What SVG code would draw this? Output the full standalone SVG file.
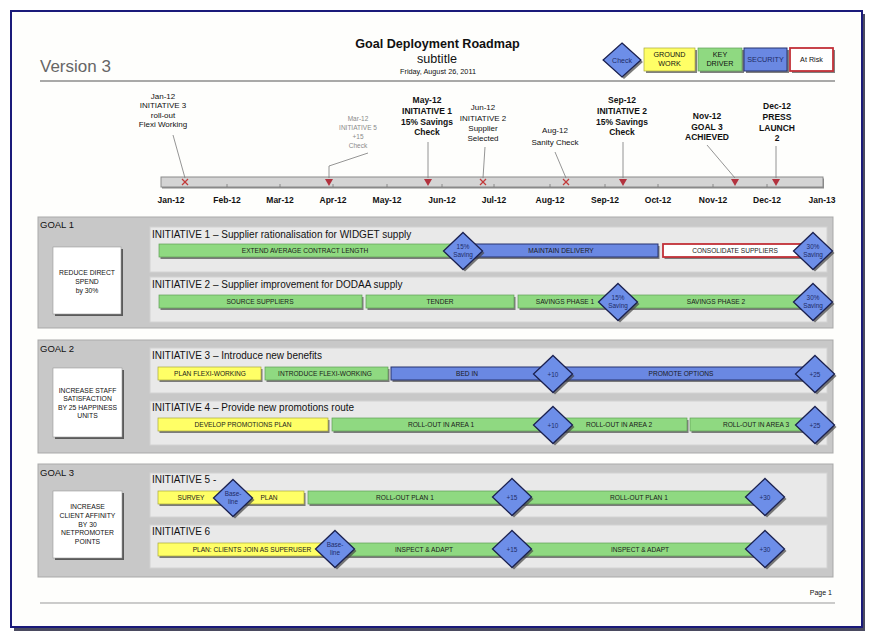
<svg xmlns="http://www.w3.org/2000/svg" width="877" height="639" viewBox="0 0 877 639">
<style>
text{font-family:"Liberation Sans",Arial,sans-serif;fill:#111}
.ctr{text-anchor:middle}
.mon{font-size:8.5px;font-weight:bold;text-anchor:middle}
.ev{font-size:8px;text-anchor:middle}
.evb{font-size:8.5px;font-weight:bold;text-anchor:middle}
.evg{font-size:6.5px;text-anchor:middle;fill:#8a8a8a}
.goalp{fill:#c8c8c8;stroke:#a9a9a9;stroke-width:1}
.initp{fill:#e9e9e9;stroke:#d2d2d2;stroke-width:1}
.gl{font-size:9.5px}
.it{font-size:10px}
.gbox{fill:#fff;stroke:#9a9a9a;stroke-width:.6}
.gsh{fill:#5a5a5a}
.gt{font-size:6.8px;text-anchor:middle}
.sh{fill:#555;opacity:.75}
.g{fill:#8fd981;stroke:#5f9f55;stroke-width:.7}
.b{fill:#6a88e2;stroke:#27326e;stroke-width:1}
.y{fill:#ffff66;stroke:#a8a83a;stroke-width:.7}
.r{fill:#fff;stroke:#c23038;stroke-width:1.8}
.bt{font-size:6.6px;text-anchor:middle;fill:#1a1a1a}
.dm{fill:#6d8ee8;stroke:#1b2150;stroke-width:1.3}
.dsh{fill:#444;opacity:.7}
.dt{font-size:6.4px;text-anchor:middle;fill:#1e2c66}
.cn{stroke:#7a7a7a;stroke-width:.8;fill:none}
.tri{fill:#b2323e}
.xm{stroke:#c23a3a;stroke-width:1.3}
.lg{font-size:7.2px;text-anchor:middle}
</style>
<defs>
<polygon id="dia" points="0,-18.5 19.5,0 0,18.5 -19.5,0"/>
<g id="tr"><polygon class="tri" points="-4,-3 4,-3 0,4"/></g>
<g id="xx"><line class="xm" x1="-3" y1="-3" x2="3" y2="3"/><line class="xm" x1="3" y1="-3" x2="-3" y2="3"/></g>
</defs>
<rect x="0" y="0" width="877" height="639" fill="#fff"/>
<!-- page -->
<g id="page">
<rect x="14" y="14" width="851" height="617" fill="#4a4a60"/>
<rect x="11" y="11" width="851" height="616" fill="#fefefc" stroke="#1a1a7a" stroke-width="2"/>
<line x1="40" y1="81" x2="835" y2="81" stroke="#555" stroke-width="1"/>
<line x1="40" y1="603" x2="835" y2="603" stroke="#999" stroke-width="1"/>
<text x="40" y="72" style="font-size:17px;fill:#666">Version 3</text>
<text x="437.5" y="48" class="ctr" style="font-size:12.6px;font-weight:bold">Goal Deployment Roadmap</text>
<text x="437" y="63" class="ctr" style="font-size:12.6px">subtitle</text>
<text x="438" y="74" class="ctr" style="font-size:7.3px">Friday, August 26, 2011</text>
<text x="832" y="594.5" style="font-size:7px;text-anchor:end">Page 1</text>
</g>
<!-- legend -->
<g id="legend">
<g id="lg-check">
<use href="#dia" class="dsh" transform="translate(624,62) scale(0.97,0.92)"/>
<use href="#dia" class="dm" transform="translate(622,60) scale(0.97,0.92)"/>
<text x="622" y="62.5" class="lg" style="font-size:7px;fill:#1e2c66">Check</text>
</g>
<g id="lg-ground">
<rect x="646" y="50" width="51" height="23" class="sh"/>
<rect x="644" y="48" width="51" height="23" class="y"/>
<text x="669.5" y="57" class="lg">GROUND</text><text x="669.5" y="65.5" class="lg">WORK</text>
</g>
<g id="lg-key">
<rect x="700" y="50" width="44" height="23" class="sh"/>
<rect x="698" y="48" width="44" height="23" class="g"/>
<text x="720" y="57" class="lg">KEY</text><text x="720" y="65.5" class="lg">DRIVER</text>
</g>
<g id="lg-sec">
<rect x="746" y="50" width="43" height="23" class="sh"/>
<rect x="744" y="48" width="43" height="23" class="b"/>
<text x="765.5" y="62" class="lg" style="fill:#1e2c66">SECURITY</text>
</g>
<g id="lg-risk">
<rect x="792" y="50" width="43" height="23" class="sh"/>
<rect x="790" y="48" width="43" height="23" class="r"/>
<text x="811.5" y="62" class="lg">At Risk</text>
</g>
</g>
<!-- timeline -->
<g id="timeline">
<rect x="162" y="178.5" width="662" height="10" fill="#888"/>
<rect x="161" y="177" width="662" height="10" fill="#d4d4d4" stroke="#8a8a8a" stroke-width="1"/>
<g stroke="#777" stroke-width=".8">
<line x1="227" y1="184" x2="227" y2="187"/><line x1="280" y1="184" x2="280" y2="187"/><line x1="333" y1="184" x2="333" y2="187"/><line x1="387" y1="184" x2="387" y2="187"/><line x1="442" y1="184" x2="442" y2="187"/><line x1="494" y1="184" x2="494" y2="187"/><line x1="550" y1="184" x2="550" y2="187"/><line x1="605" y1="184" x2="605" y2="187"/><line x1="658" y1="184" x2="658" y2="187"/><line x1="713" y1="184" x2="713" y2="187"/><line x1="767" y1="184" x2="767" y2="187"/>
</g>
<text x="171" y="203" class="mon">Jan-12</text>
<text x="227" y="203" class="mon">Feb-12</text>
<text x="280" y="203" class="mon">Mar-12</text>
<text x="333" y="203" class="mon">Apr-12</text>
<text x="387" y="203" class="mon">May-12</text>
<text x="442" y="203" class="mon">Jun-12</text>
<text x="494" y="203" class="mon">Jul-12</text>
<text x="550" y="203" class="mon">Aug-12</text>
<text x="605" y="203" class="mon">Sep-12</text>
<text x="658" y="203" class="mon">Oct-12</text>
<text x="713" y="203" class="mon">Nov-12</text>
<text x="767" y="203" class="mon">Dec-12</text>
<text x="822" y="203" class="mon">Jan-13</text>
</g>
<!-- milestones -->
<g id="ms-jan">
<text x="163" y="98.5" class="ev">Jan-12</text><text x="163" y="108" class="ev">INITIATIVE 3</text><text x="163" y="117.5" class="ev">roll-out</text><text x="163" y="127" class="ev">Flexi Working</text>
<use href="#xx" x="185" y="182"/>
</g>
<g id="ms-mar">
<text x="358" y="121" class="evg">Mar-12</text><text x="358" y="130" class="evg">INITIATIVE 5</text><text x="358" y="139" class="evg">+15</text><text x="358" y="148" class="evg">Check</text>
<use href="#tr" x="329" y="182"/>
</g>
<g id="ms-may">
<text x="427" y="103" class="evb">May-12</text><text x="427" y="114" class="evb">INITIATIVE 1</text><text x="427" y="124.5" class="evb">15% Savings</text><text x="427" y="135" class="evb">Check</text>
<use href="#tr" x="428" y="182"/>
</g>
<g id="ms-jun">
<text x="483" y="110" class="ev">Jun-12</text><text x="483" y="120.5" class="ev">INITIATIVE 2</text><text x="483" y="131" class="ev">Supplier</text><text x="483" y="141" class="ev">Selected</text>
<use href="#xx" x="483" y="182"/>
</g>
<g id="ms-aug">
<text x="555" y="133" class="ev">Aug-12</text><text x="555" y="144.5" class="ev">Sanity Check</text>
<use href="#xx" x="566" y="182"/>
</g>
<g id="ms-sep">
<text x="622" y="103" class="evb">Sep-12</text><text x="622" y="114" class="evb">INITIATIVE 2</text><text x="622" y="124.5" class="evb">15% Savings</text><text x="622" y="135" class="evb">Check</text>
<use href="#tr" x="623" y="182"/>
</g>
<g id="ms-nov">
<text x="707" y="119" class="evb">Nov-12</text><text x="707" y="129.5" class="evb">GOAL 3</text><text x="707" y="140" class="evb">ACHIEVED</text>
<use href="#tr" x="735" y="182"/>
</g>
<g id="ms-dec">
<text x="777" y="109" class="evb">Dec-12</text><text x="777" y="120" class="evb">PRESS</text><text x="777" y="130.5" class="evb">LAUNCH</text><text x="777" y="141" class="evb">2</text>
<use href="#tr" x="776" y="182"/>
</g>
<!-- connectors -->
<g id="connectors">
<line class="cn" x1="173" y1="135" x2="185" y2="178"/>
<polyline class="cn" points="368,153 329,166 329,178"/>
<line class="cn" x1="428" y1="142" x2="428" y2="178"/>
<line class="cn" x1="485" y1="147" x2="483" y2="178"/>
<line class="cn" x1="555" y1="152" x2="566" y2="178"/>
<line class="cn" x1="623" y1="142" x2="623" y2="178"/>
<line class="cn" x1="707" y1="145" x2="735" y2="178"/>
<line class="cn" x1="776" y1="146" x2="776" y2="178"/>
</g>
<!-- GOAL 1 -->
<g id="goal1">
<rect x="38" y="217" width="795" height="111" class="goalp"/>
<text x="40" y="228" class="gl">GOAL 1</text>
<rect x="55" y="249" width="68" height="67" class="gsh"/>
<rect x="53" y="247" width="68" height="67" class="gbox"/>
<text x="87" y="275" class="gt">REDUCE DIRECT</text><text x="87" y="283.5" class="gt">SPEND</text><text x="87" y="292.5" class="gt">by 30%</text>
</g>
<g id="init1">
<rect x="150" y="227" width="677" height="45" class="initp"/>
<text x="152" y="238" class="it">INITIATIVE 1 – Supplier rationalisation for WIDGET supply</text>
<rect x="160.5" y="246" width="303" height="13" class="sh"/>
<rect x="159" y="244" width="303" height="13" class="g"/>
<text x="305" y="253" class="bt">EXTEND AVERAGE CONTRACT LENGTH</text>
<rect x="463.5" y="246" width="196" height="13" class="sh"/>
<rect x="462" y="244" width="196" height="13" class="b"/>
<text x="561" y="253" class="bt">MAINTAIN DELIVERY</text>
<rect x="664.5" y="246" width="146" height="13" class="sh"/>
<rect x="663" y="244" width="146" height="13" class="r"/>
<text x="735" y="253" class="bt">CONSOLIDATE SUPPLIERS</text>
<use href="#dia" class="dsh" x="465" y="253"/><use href="#dia" class="dm" x="463" y="251"/>
<text x="463" y="249" class="dt">15%</text><text x="463" y="257" class="dt">Saving</text>
<use href="#dia" class="dsh" x="815" y="253"/><use href="#dia" class="dm" x="813" y="251"/>
<text x="813" y="249" class="dt">30%</text><text x="813" y="257" class="dt">Saving</text>
</g>
<g id="init2">
<rect x="150" y="277" width="677" height="45" class="initp"/>
<text x="152" y="288" class="it">INITIATIVE 2 – Supplier improvement for DODAA supply</text>
<rect x="160.5" y="297" width="203" height="13" class="sh"/>
<rect x="159" y="295" width="203" height="13" class="g"/>
<text x="260" y="304" class="bt">SOURCE SUPPLIERS</text>
<rect x="367.5" y="297" width="148" height="13" class="sh"/>
<rect x="366" y="295" width="148" height="13" class="g"/>
<text x="440" y="304" class="bt">TENDER</text>
<rect x="519.5" y="297" width="100" height="13" class="sh"/>
<rect x="518" y="295" width="100" height="13" class="g"/>
<text x="565" y="304" class="bt">SAVINGS PHASE 1</text>
<rect x="619.5" y="297" width="191" height="13" class="sh"/>
<rect x="618" y="295" width="191" height="13" class="g"/>
<text x="716" y="304" class="bt">SAVINGS PHASE 2</text>
<use href="#dia" class="dsh" x="620" y="304"/><use href="#dia" class="dm" x="618" y="302"/>
<text x="618" y="300" class="dt">15%</text><text x="618" y="308" class="dt">Saving</text>
<use href="#dia" class="dsh" x="815" y="304"/><use href="#dia" class="dm" x="813" y="302"/>
<text x="813" y="300" class="dt">30%</text><text x="813" y="308" class="dt">Saving</text>
</g>
<!-- GOAL 2 -->
<g id="goal2">
<rect x="38" y="340" width="795" height="113" class="goalp"/>
<text x="40" y="352" class="gl">GOAL 2</text>
<rect x="55" y="370" width="69" height="69" class="gsh"/>
<rect x="53" y="368" width="69" height="69" class="gbox"/>
<text x="87.5" y="392.5" class="gt">INCREASE STAFF</text><text x="87.5" y="401" class="gt">SATISFACTION</text><text x="87.5" y="409.5" class="gt">BY 25 HAPPINESS</text><text x="87.5" y="418" class="gt">UNITS</text>
</g>
<g id="init3">
<rect x="150" y="348" width="677" height="45" class="initp"/>
<text x="152" y="359" class="it">INITIATIVE 3 – Introduce new benefits</text>
<rect x="159.5" y="369" width="103" height="13" class="sh"/>
<rect x="158" y="367" width="103" height="13" class="y"/>
<text x="210" y="376" class="bt">PLAN FLEXI-WORKING</text>
<rect x="266.5" y="369" width="123" height="13" class="sh"/>
<rect x="265" y="367" width="123" height="13" class="g"/>
<text x="325" y="376" class="bt">INTRODUCE FLEXI-WORKING</text>
<rect x="392.5" y="369" width="162" height="13" class="sh"/>
<rect x="391" y="367" width="162" height="13" class="b"/>
<text x="467" y="376" class="bt">BED IN</text>
<rect x="554.5" y="369" width="256" height="13" class="sh"/>
<rect x="553" y="367" width="256" height="13" class="b"/>
<text x="681" y="376" class="bt">PROMOTE OPTIONS</text>
<use href="#dia" class="dsh" x="555" y="376"/><use href="#dia" class="dm" x="553" y="374"/>
<text x="553" y="376.5" class="dt">+10</text>
<use href="#dia" class="dsh" x="817" y="376"/><use href="#dia" class="dm" x="815" y="374"/>
<text x="815" y="376.5" class="dt">+25</text>
</g>
<g id="init4">
<rect x="150" y="401" width="677" height="44" class="initp"/>
<text x="152" y="410.5" class="it">INITIATIVE 4 – Provide new promotions route</text>
<rect x="159.5" y="420" width="170" height="13" class="sh"/>
<rect x="158" y="418" width="170" height="13" class="y"/>
<text x="243" y="427" class="bt">DEVELOP PROMOTIONS PLAN</text>
<rect x="333.5" y="420" width="221" height="13" class="sh"/>
<rect x="332" y="418" width="221" height="13" class="g"/>
<text x="441" y="427" class="bt">ROLL-OUT IN AREA 1</text>
<rect x="554.5" y="420" width="134" height="13" class="sh"/>
<rect x="553" y="418" width="134" height="13" class="g"/>
<text x="619" y="427" class="bt">ROLL-OUT IN AREA 2</text>
<rect x="691.5" y="420" width="120" height="13" class="sh"/>
<rect x="690" y="418" width="120" height="13" class="g"/>
<text x="756" y="427" class="bt">ROLL-OUT IN AREA 3</text>
<use href="#dia" class="dsh" x="555" y="427"/><use href="#dia" class="dm" x="553" y="425"/>
<text x="553" y="427.5" class="dt">+10</text>
<use href="#dia" class="dsh" x="817" y="427"/><use href="#dia" class="dm" x="815" y="425"/>
<text x="815" y="427.5" class="dt">+25</text>
</g>
<!-- GOAL 3 -->
<g id="goal3">
<rect x="38" y="464" width="795" height="113" class="goalp"/>
<text x="40" y="476" class="gl">GOAL 3</text>
<rect x="55" y="493" width="69" height="67" class="gsh"/>
<rect x="53" y="491" width="69" height="67" class="gbox"/>
<text x="87.5" y="509" class="gt">INCREASE</text><text x="87.5" y="517.5" class="gt">CLIENT AFFINITY</text><text x="87.5" y="526.5" class="gt">BY 30</text><text x="87.5" y="535" class="gt">NETPROMOTER</text><text x="87.5" y="543.5" class="gt">POINTS</text>
</g>
<g id="init5">
<rect x="150" y="473" width="677" height="44" class="initp"/>
<text x="152" y="483" class="it">INITIATIVE 5 -</text>
<rect x="159.5" y="493" width="146" height="13" class="sh"/>
<rect x="158" y="491" width="146" height="13" class="y"/>
<text x="191" y="500" class="bt">SURVEY</text>
<text x="269" y="500" class="bt">PLAN</text>
<rect x="309.5" y="493" width="204" height="13" class="sh"/>
<rect x="308" y="491" width="204" height="13" class="g"/>
<text x="405" y="500" class="bt">ROLL-OUT PLAN 1</text>
<rect x="513.5" y="493" width="253" height="13" class="sh"/>
<rect x="512" y="491" width="253" height="13" class="g"/>
<text x="639" y="500" class="bt">ROLL-OUT PLAN 1</text>
<use href="#dia" class="dsh" x="235" y="500"/><use href="#dia" class="dm" x="233" y="498"/>
<text x="233" y="496" class="dt">Base-</text><text x="233" y="503.5" class="dt">line</text>
<use href="#dia" class="dsh" x="514" y="499"/><use href="#dia" class="dm" x="512" y="497"/>
<text x="512" y="499.5" class="dt">+15</text>
<use href="#dia" class="dsh" x="767" y="499"/><use href="#dia" class="dm" x="765" y="497"/>
<text x="765" y="499.5" class="dt">+30</text>
</g>
<g id="init6">
<rect x="150" y="525" width="677" height="43" class="initp"/>
<text x="152" y="535" class="it">INITIATIVE 6</text>
<rect x="159.5" y="545" width="177" height="13" class="sh"/>
<rect x="158" y="543" width="177" height="13" class="y"/>
<text x="252" y="552" class="bt">PLAN: CLIENTS JOIN AS SUPERUSER</text>
<rect x="336.5" y="545" width="177" height="13" class="sh"/>
<rect x="335" y="543" width="177" height="13" class="g"/>
<text x="424" y="552" class="bt">INSPECT &amp; ADAPT</text>
<rect x="513.5" y="545" width="253" height="13" class="sh"/>
<rect x="512" y="543" width="253" height="13" class="g"/>
<text x="640" y="552" class="bt">INSPECT &amp; ADAPT</text>
<use href="#dia" class="dsh" x="337" y="551"/><use href="#dia" class="dm" x="335" y="549"/>
<text x="335" y="547" class="dt">Base-</text><text x="335" y="554.5" class="dt">line</text>
<use href="#dia" class="dsh" x="514" y="551"/><use href="#dia" class="dm" x="512" y="549"/>
<text x="512" y="551.5" class="dt">+15</text>
<use href="#dia" class="dsh" x="767" y="551"/><use href="#dia" class="dm" x="765" y="549"/>
<text x="765" y="551.5" class="dt">+30</text>
</g>
</svg>
